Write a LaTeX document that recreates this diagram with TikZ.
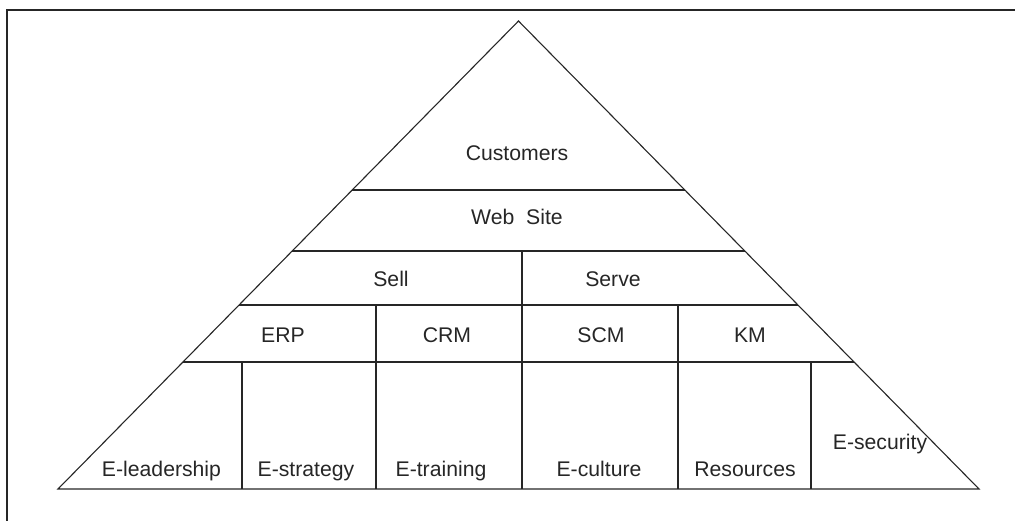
\documentclass[tikz,border=0pt]{standalone}
\usepackage{fontspec}
\setmainfont{Liberation Sans}
\usetikzlibrary{calc}
\definecolor{ink}{HTML}{262626}
\begin{document}
\begin{tikzpicture}[x=1pt,y=-1pt,
  edge/.style={draw=ink,line width=1.1pt,line join=miter},
  frame/.style={draw=ink,line width=2pt},
  lbl/.style={anchor=base,inner sep=0pt,text=ink,font=\fontsize{21.2}{25}\selectfont}]
\useasboundingbox (0,0) rectangle (1015,521);
% outer frame
\coordinate (fb) at (7,530);
\coordinate (fc) at (7,10);
\coordinate (fr) at (1020,10);
\draw[frame] (fb) -- (fc) -- (fr);
% pyramid outline
\coordinate (A) at (518.5,21);
\coordinate (L) at (58,489);
\coordinate (R) at (979,489);
\draw[edge] (A) -- (L) -- (R) -- cycle;
% tier boundaries on both slopes
\foreach \n/\t in {a/0.6389,b/0.5085,c/0.3932,d/0.2714}{
  \path (L) -- (A) coordinate[pos=\t] (l\n);
  \path (R) -- (A) coordinate[pos=\t] (r\n);
  \draw[edge] (l\n) -- (r\n);
}
% vertical dividers
\coordinate (s1) at (522,251); \coordinate (s2) at (522,305);
\draw[edge] (s1) -- (s2);
\foreach \n/\x/\y in {p/376/305,q/522/305,u/678/305,v/242/362,w/811/362}{
  \coordinate (\n t) at (\x,\y);
  \coordinate (\n b) at (\x,489);
  \draw[edge] (\n t) -- (\n b);
}
% labels
\node[lbl] (cust) at (517,160.5) {Customers};
\node[lbl] (web) at (517,225) {Web~~Site};
\node[lbl] (sell) at (391,287) {Sell};
\node[lbl] (serve) at (613,287) {Serve};
\node[lbl] (erp) at (283,343) {ERP};
\node[lbl] (crm) at (447,343) {CRM};
\node[lbl] (scm) at (601,343) {SCM};
\node[lbl] (km) at (750,343) {KM};
\node[lbl] (lead) at (161.5,476) {E-leadership};
\node[lbl] (strat) at (306,476) {E-strategy};
\node[lbl] (train) at (441,476) {E-training};
\node[lbl] (cult) at (599,476) {E-culture};
\node[lbl] (res) at (745,476) {Resources};
\node[lbl] (sec) at (880,449) {E-security};
\end{tikzpicture}
\end{document}
